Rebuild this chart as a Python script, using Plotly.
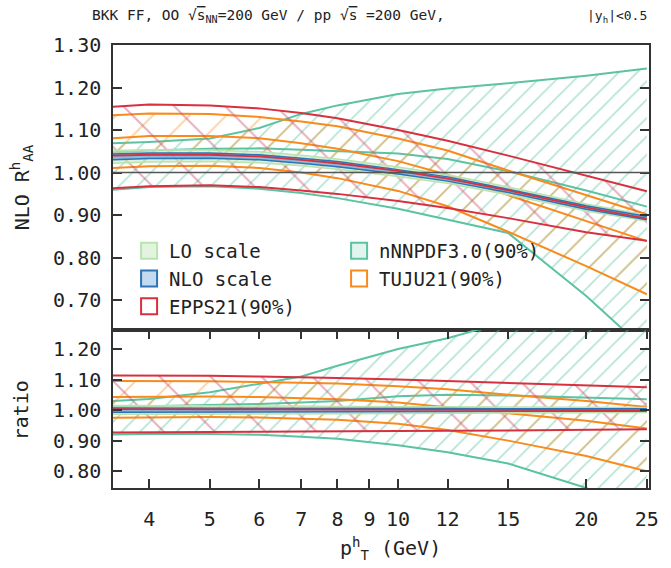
import math
import plotly.graph_objects as go

# ---------------- data ----------------
pt = [3.5, 4, 5, 6, 7, 8, 10, 12, 15, 20, 25]
xtick_vals = [4, 5, 6, 7, 8, 9, 10, 12, 15, 20, 25]
ytick_top = [0.70, 0.80, 0.90, 1.00, 1.10, 1.20, 1.30]
ytick_bot = [0.80, 0.90, 1.00, 1.10, 1.20]

# upper panel: NLO R_AA
lo_hi = [1.052, 1.054, 1.053, 1.049, 1.041, 1.032, 1.013, 0.995, 0.966, 0.926, 0.900]
lo_lo = [1.022, 1.025, 1.026, 1.023, 1.016, 1.008, 0.991, 0.975, 0.948, 0.910, 0.886]
nlo_hi = [1.044, 1.046, 1.046, 1.042, 1.034, 1.026, 1.007, 0.990, 0.961, 0.922, 0.897]
nlo_lo = [1.030, 1.033, 1.034, 1.030, 1.022, 1.014, 0.997, 0.980, 0.953, 0.914, 0.889]
epps_hi = [1.155, 1.160, 1.158, 1.151, 1.140, 1.128, 1.100, 1.075, 1.040, 0.993, 0.956]
epps_c = [1.040, 1.042, 1.042, 1.038, 1.030, 1.022, 1.004, 0.986, 0.958, 0.918, 0.892]
epps_lo = [0.963, 0.968, 0.970, 0.966, 0.958, 0.950, 0.933, 0.917, 0.893, 0.860, 0.840]
tuju_hi = [1.135, 1.139, 1.138, 1.131, 1.120, 1.109, 1.080, 1.052, 1.005, 0.946, 0.902]
tuju_mid = [1.081, 1.086, 1.086, 1.081, 1.069, 1.056, 1.027, 0.995, 0.947, 0.886, 0.839]
tuju_lo = [1.011, 1.015, 1.016, 1.011, 1.000, 0.987, 0.957, 0.921, 0.861, 0.780, 0.714]
nnpdf_hi = [1.069, 1.072, 1.080, 1.105, 1.138, 1.158, 1.185, 1.198, 1.210, 1.228, 1.245]
nnpdf_mid = [1.047, 1.052, 1.056, 1.057, 1.054, 1.051, 1.045, 1.032, 1.003, 0.958, 0.920]
nnpdf_lo = [0.960, 0.966, 0.968, 0.962, 0.952, 0.940, 0.915, 0.890, 0.858, 0.710, 0.580]

# lower panel: ratio
r_lo_hi = [1.015, 1.015, 1.014, 1.013, 1.013, 1.012, 1.011, 1.010, 1.009, 1.008, 1.008]
r_lo_lo = [0.986, 0.986, 0.987, 0.987, 0.988, 0.988, 0.989, 0.990, 0.991, 0.992, 0.992]
r_nlo_hi = [1.007, 1.007, 1.006, 1.006, 1.006, 1.006, 1.005, 1.005, 1.004, 1.004, 1.004]
r_nlo_lo = [0.993, 0.993, 0.994, 0.994, 0.994, 0.994, 0.995, 0.995, 0.996, 0.996, 0.996]
r_epps_hi = [1.113, 1.113, 1.112, 1.110, 1.108, 1.105, 1.100, 1.095, 1.090, 1.082, 1.075]
r_epps_c = [1.003, 1.002, 1.002, 1.002, 1.002, 1.002, 1.002, 1.001, 1.001, 1.000, 0.999]
r_epps_lo = [0.927, 0.927, 0.928, 0.929, 0.930, 0.930, 0.931, 0.932, 0.933, 0.935, 0.937]
r_tuju_hi = [1.095, 1.095, 1.094, 1.092, 1.090, 1.087, 1.078, 1.068, 1.050, 1.030, 1.010]
r_tuju_mid = [1.043, 1.044, 1.044, 1.043, 1.040, 1.035, 1.025, 1.010, 0.990, 0.965, 0.940]
r_tuju_lo = [0.975, 0.976, 0.977, 0.976, 0.973, 0.968, 0.955, 0.935, 0.900, 0.850, 0.800]
r_nnpdf_hi = [1.030, 1.036, 1.058, 1.085, 1.110, 1.145, 1.200, 1.235, 1.290, 1.360, 1.420]
r_nnpdf_mid = [1.010, 1.012, 1.015, 1.020, 1.025, 1.030, 1.045, 1.050, 1.048, 1.042, 1.035]
r_nnpdf_lo = [0.920, 0.922, 0.922, 0.919, 0.913, 0.906, 0.885, 0.862, 0.825, 0.745, 0.650]

legend_names = ["LO scale", "nNNPDF3.0(90%)", "NLO scale", "TUJU21(90%)", "EPPS21(90%)"]

# ---------------- styling ----------------
FONT = "DejaVu Sans Mono"
RED = "#d7303f"
ORANGE = "#f98a1c"
GREEN = "#5cc3a2"
BLUE = "#2c74b5"
LOGREEN = "#b9e3b0"
AXC = "#333333"

fig = go.Figure()


def add_band(xa, ya, lo, hi, color, fillcolor=None, pattern=None, width=2.0):
    fig.add_trace(go.Scatter(x=pt, y=lo, xaxis=xa, yaxis=ya, mode="lines",
                             line=dict(color=color, width=width),
                             showlegend=False, hoverinfo="skip"))
    kw = dict(fill="tonexty", fillcolor=fillcolor or "rgba(0,0,0,0)")
    if pattern is not None:
        kw["fillpattern"] = pattern
    fig.add_trace(go.Scatter(x=pt, y=hi, xaxis=xa, yaxis=ya, mode="lines",
                             line=dict(color=color, width=width),
                             showlegend=False, hoverinfo="skip", **kw))


def add_line(xa, ya, y, color, width=2.0):
    fig.add_trace(go.Scatter(x=pt, y=y, xaxis=xa, yaxis=ya, mode="lines",
                             line=dict(color=color, width=width),
                             showlegend=False, hoverinfo="skip"))


green_pat = dict(shape="/", fgcolor="rgba(92,195,162,0.95)", size=13, solidity=0.12)
orange_pat = dict(shape="/", fgcolor="rgba(249,138,28,0.85)", size=26, solidity=0.07)
red_pat = dict(shape="\\", fgcolor="rgba(205,80,110,0.9)", size=36, solidity=0.055)

panels = [
    ("x", "y", lo_lo, lo_hi, nlo_lo, nlo_hi, epps_lo, epps_c, epps_hi,
     tuju_lo, tuju_mid, tuju_hi, nnpdf_lo, nnpdf_mid, nnpdf_hi),
    ("x2", "y2", r_lo_lo, r_lo_hi, r_nlo_lo, r_nlo_hi, r_epps_lo, r_epps_c, r_epps_hi,
     r_tuju_lo, r_tuju_mid, r_tuju_hi, r_nnpdf_lo, r_nnpdf_mid, r_nnpdf_hi),
]

for (xa, ya, a_lo, a_hi, b_lo, b_hi, e_lo, e_c, e_hi,
     t_lo, t_mid, t_hi, n_lo, n_mid, n_hi) in panels:
    add_band(xa, ya, n_lo, n_hi, GREEN, pattern=green_pat)
    add_line(xa, ya, n_mid, GREEN, 2.0)
    add_band(xa, ya, t_lo, t_hi, ORANGE, pattern=orange_pat)
    add_line(xa, ya, t_mid, ORANGE, 2.0)
    add_band(xa, ya, e_lo, e_hi, RED, pattern=red_pat)
    add_band(xa, ya, a_lo, a_hi, LOGREEN, fillcolor="rgba(199,233,192,0.6)", width=1.5)
    add_band(xa, ya, b_lo, b_hi, BLUE, fillcolor="rgba(120,170,220,0.8)", width=1.5)
    add_line(xa, ya, e_c, RED, 1.8)

# legend-only box symbols
legend_style = {
    "LO scale": ("#e3f4de", LOGREEN),
    "nNNPDF3.0(90%)": ("rgba(92,195,162,0.18)", GREEN),
    "NLO scale": ("#c4daef", BLUE),
    "TUJU21(90%)": ("white", ORANGE),
    "EPPS21(90%)": ("white", RED),
}
for rank, name in enumerate(legend_names):
    fc, lc = legend_style[name]
    fig.add_trace(go.Scatter(x=[None], y=[None], xaxis="x", yaxis="y", mode="markers",
                             name=name, legendrank=rank + 1, hoverinfo="skip",
                             marker=dict(symbol="square", size=16, color=fc,
                                         line=dict(color=lc, width=2))))

# ---------------- layout ----------------
W, H = 671, 568
ml, mr, mt, mb = 113, 14, 45, 80
pw, ph = W - ml - mr, H - mt - mb
split = (488 - 330) / ph

xr = [math.log10(3.5), math.log10(25.2)]
axis_common = dict(showline=True, linecolor=AXC, linewidth=1.5, mirror="ticks",
                   ticks="inside", ticklen=9, tickwidth=1.5, tickcolor=AXC,
                   showgrid=False, zeroline=False,
                   tickfont=dict(family=FONT, size=20, color="#222"))

fig.update_layout(
    width=W, height=H, margin=dict(l=ml, r=mr, t=mt, b=mb),
    paper_bgcolor="white", plot_bgcolor="white",
    font=dict(family=FONT, color="#222"),
    xaxis=dict(type="log", range=xr, domain=[0, 1], anchor="y", showline=True,
               linecolor=AXC, linewidth=1.5, mirror=True, ticks="",
               showticklabels=False, showgrid=False, zeroline=False),
    xaxis2=dict(type="log", range=xr, domain=[0, 1], anchor="y2",
                tickvals=xtick_vals, ticktext=[str(v) for v in xtick_vals],
                ticklabelstandoff=12, **axis_common),
    yaxis=dict(domain=[split, 1], anchor="x", range=[0.63, 1.30],
               tickvals=ytick_top, tickformat=".2f", ticklabelstandoff=6,
               **axis_common),
    yaxis2=dict(domain=[0, split], anchor="x2", range=[0.745, 1.262],
                tickvals=ytick_bot, tickformat=".2f", ticklabelstandoff=6,
                **axis_common),
    legend=dict(orientation="h", x=0.03, xanchor="left", y=1 - (232 - mt) / ph,
                yanchor="top", entrywidth=165, bgcolor="rgba(0,0,0,0)",
                traceorder="normal",
                font=dict(family=FONT, size=19, color="#222"),
                tracegroupgap=0),
    showlegend=True,
)

# reference line at 1.00 in the upper panel
fig.add_shape(type="line", xref="x domain", yref="y", x0=0, x1=1, y0=1.0, y1=1.0,
              line=dict(color="#555555", width=1.5), layer="above")

fig.add_annotation(xref="paper", yref="paper", x=(90 - ml) / pw, y=1 + (mt - 16) / ph,
                   xanchor="left", yanchor="middle", showarrow=False,
                   text="BKK FF, OO √<span style='text-decoration:overline'>s</span>"
                        "<sub>NN</sub>=200 GeV / pp √<span style='text-decoration:overline'>s</span> =200 GeV,",
                   font=dict(family=FONT, size=14.5, color="#222"))
fig.add_annotation(xref="paper", yref="paper", x=1, y=1 + (mt - 16) / ph,
                   xanchor="right", yanchor="middle", showarrow=False,
                   text="|y<sub>h</sub>|<0.5",
                   font=dict(family=FONT, size=13, color="#222"))
fig.add_annotation(xref="paper", yref="paper", x=(20 - ml) / pw,
                   y=1 - (187 - mt) / ph, textangle=-90, showarrow=False,
                   xanchor="center", yanchor="middle",
                   text="NLO R<sup>h</sup><sub>AA</sub>",
                   font=dict(family=FONT, size=20, color="#222"))
fig.add_annotation(xref="paper", yref="paper", x=(20 - ml) / pw,
                   y=1 - (410 - mt) / ph, textangle=-90, showarrow=False,
                   xanchor="center", yanchor="middle", text="ratio",
                   font=dict(family=FONT, size=20, color="#222"))
fig.add_annotation(xref="paper", yref="paper", x=(395 - ml) / pw,
                   y=-(548 - 488) / ph, showarrow=False,
                   xanchor="center", yanchor="middle",
                   text="p<sup>h</sup><sub>T</sub> (GeV)",
                   font=dict(family=FONT, size=20, color="#222"))

fig.write_html("out.html")
